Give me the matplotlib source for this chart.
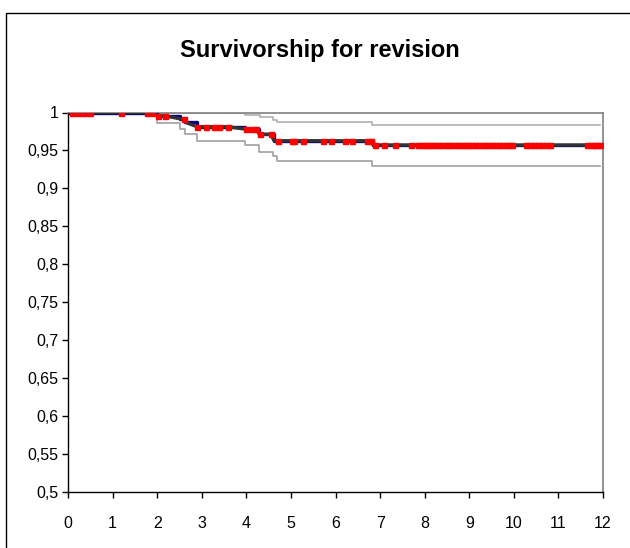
import numpy as np
import matplotlib
matplotlib.use("Agg")
import matplotlib.pyplot as plt
from matplotlib.patches import Rectangle
from matplotlib.ticker import FuncFormatter, MultipleLocator

plt.rcParams["font.family"] = ["Liberation Sans", "DejaVu Sans"]

# ── Datos ────────────────────────────────────────────────────────────────────
TITLE = "Survivorship for revision"

# tiempos de revisión (eventos) y supervivencia tras cada evento
event_t = [2.0, 2.51, 2.62, 2.89, 3.98, 4.29, 4.62, 6.84, 11.95]
event_s = [0.9958, 0.9916, 0.9874, 0.9813, 0.978, 0.9713, 0.9628, 0.9572, 0.9572]

# casos censurados (marcadores rojos)
censor_t = [0.1, 0.2, 0.3, 0.4, 0.5, 1.19, 1.77, 1.88,
            2.02, 2.17, 2.6,
            2.9, 3.1, 3.27, 3.38, 3.59,
            3.99, 4.12, 4.22,
            4.3, 4.55,
            4.7, 5.02, 5.08, 5.27, 5.72, 5.9, 6.21, 6.37, 6.71, 6.8,
            6.88, 7.08, 7.33, 7.69,
            7.85, 7.93, 8.0, 8.08, 8.15, 8.22, 8.3, 8.37, 8.45, 8.52,
            8.6, 8.68, 8.75, 8.83, 8.9, 8.98, 9.05, 9.13, 9.2, 9.28,
            9.35, 9.43, 9.5, 9.58, 9.66, 9.74, 9.82, 9.9, 9.97,
            10.27, 10.37, 10.45, 10.55, 10.63, 10.72, 10.82,
            11.65, 11.73, 11.8, 11.87, 11.93]

# intervalo de confianza (escalones)
upper_t = [0, 3.97, 4.3, 4.59, 4.68, 6.81, 11.93]
upper_s = [1.0, 0.9963, 0.9937, 0.9905, 0.988, 0.984, 0.984]
lower_t = [0, 2.0, 2.51, 2.62, 2.89, 3.98, 4.29, 4.59, 4.69, 6.81, 11.93]
lower_s = [1.0, 0.9858, 0.978, 0.9713, 0.9628, 0.957, 0.9475, 0.9427, 0.936, 0.930, 0.930]

Y_TICKS = [0.5, 0.55, 0.6, 0.65, 0.7, 0.75, 0.8, 0.85, 0.9, 0.95, 1.0]


def supervivencia(t):
    idx = np.searchsorted(event_t, t, side="right") - 1
    return np.where(idx < 0, 1.0, np.array(event_s)[np.clip(idx, 0, None)])


fig = plt.figure(figsize=(6.3, 5.48), dpi=100)
ax = fig.add_axes([68 / 630, 1 - 492 / 548, (603 - 68) / 630, (492 - 112.5) / 548])

# marco exterior
fig.add_artist(Rectangle((6 / 630, -0.05), 1.2, 1.05 - 13 / 548, transform=fig.transFigure,
                         fill=False, edgecolor="black", linewidth=1.0))

# curva escalonada (azul) y línea que une las observaciones (gris oscuro)
st = np.r_[0, event_t]
ss = np.r_[1.0, event_s]
ax.step(st, ss, where="post", color="#000080", linewidth=2.4, zorder=3)

c_s = supervivencia(np.array(censor_t))
pts_t = np.r_[0, event_t, censor_t]
pts_s = np.r_[1.0, event_s, c_s]
orden = np.argsort(pts_t, kind="stable")
ax.plot(pts_t[orden], pts_s[orden], color="#333333", linewidth=2.4, zorder=4)

ax.step(upper_t, upper_s, where="post", color="#b0b0b0", linewidth=1.2, zorder=2)
ax.step(lower_t, lower_s, where="post", color="#a0a0a0", linewidth=1.2, zorder=2)

ax.plot(censor_t, c_s, linestyle="none", marker="s", markersize=3.6,
        markerfacecolor="red", markeredgecolor="red", zorder=5)

ax.set_xlim(0, 12)
ax.set_ylim(0.5, 1.0)
ax.xaxis.set_major_locator(MultipleLocator(1))
ax.set_yticks(Y_TICKS)
ax.yaxis.set_major_formatter(FuncFormatter(lambda v, p: f"{v:g}".replace(".", ",")))
ax.tick_params(direction="out", length=4, width=1, labelsize=11.5, color="black")
ax.tick_params(axis="y", pad=3)
ax.tick_params(axis="x", pad=13)

for lado in ("left", "bottom"):
    ax.spines[lado].set_color("black")
    ax.spines[lado].set_linewidth(1.0)
for lado in ("top", "right"):
    ax.spines[lado].set_color("#808080")
    ax.spines[lado].set_linewidth(1.2)

fig.text(320 / 630, 1 - 50 / 548, TITLE, ha="center", va="center",
         fontsize=17, fontweight="bold")

fig.savefig("out.png", dpi=100)
